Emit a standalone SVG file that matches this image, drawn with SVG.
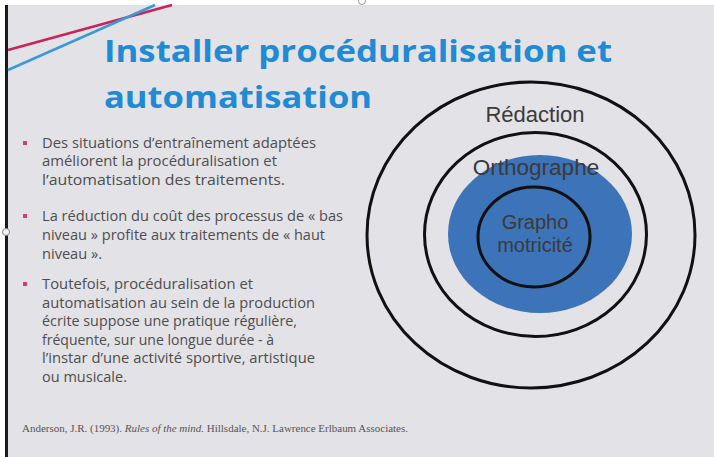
<svg xmlns="http://www.w3.org/2000/svg" width="714" height="457" viewBox="0 0 714 457">
<style>
.title{font-family:"Open Sans","Liberation Sans",sans-serif;font-weight:bold;font-size:30px;fill:#1f8ad6}
.body{font-family:"Open Sans","Liberation Sans",sans-serif;font-size:14px;fill:#4e4e4e}
.lbl{font-family:"Liberation Sans",Arial,sans-serif;fill:#3a3a3a;text-anchor:middle}
.ring{fill:none;stroke:#111;stroke-width:3}
.ref{font-family:"Liberation Serif","Times New Roman",serif;font-size:9.5px;fill:#555}
.bul{fill:#c8407a}
</style>
<rect x="0" y="0" width="714" height="457" fill="#ffffff"/>
<rect x="6" y="5" width="708" height="452" fill="#e3e2e6"/>
<rect x="5" y="5" width="3" height="452" fill="#1a1a1a"/>
<circle cx="6" cy="232" r="3.5" fill="#f4f4f4" stroke="#888" stroke-width="1"/>
<circle cx="362" cy="1" r="3.5" fill="none" stroke="#999" stroke-width="1"/>
<g id="deco">
<line x1="8" y1="50" x2="172" y2="5" stroke="#c8245a" stroke-width="2.5"/>
<line x1="8" y1="70" x2="155" y2="5" stroke="#3a9ad9" stroke-width="2.5"/>
</g>
<g id="title">
<text class="title" x="104" y="62" textLength="508" lengthAdjust="spacingAndGlyphs">Installer procéduralisation et</text>
<text class="title" x="104" y="108" textLength="268" lengthAdjust="spacingAndGlyphs">automatisation</text>
</g>
<g id="bullets">
<rect class="bul" x="23" y="141" width="4" height="4"/>
<text class="body" x="42" y="148" textLength="274" lengthAdjust="spacingAndGlyphs">Des situations d’entraînement adaptées</text>
<text class="body" x="42" y="166" textLength="235" lengthAdjust="spacingAndGlyphs">améliorent la procéduralisation et</text>
<text class="body" x="42" y="185" textLength="243" lengthAdjust="spacingAndGlyphs">l’automatisation des traitements.</text>
<rect class="bul" x="23" y="214" width="4" height="4"/>
<text class="body" x="42" y="221" textLength="301" lengthAdjust="spacingAndGlyphs">La réduction du coût des processus de « bas</text>
<text class="body" x="42" y="240" textLength="283" lengthAdjust="spacingAndGlyphs">niveau » profite aux traitements de « haut</text>
<text class="body" x="42" y="259" textLength="60" lengthAdjust="spacingAndGlyphs">niveau ».</text>
<rect class="bul" x="23" y="282" width="4" height="4"/>
<text class="body" x="42" y="289" textLength="211" lengthAdjust="spacingAndGlyphs">Toutefois, procéduralisation et</text>
<text class="body" x="42" y="308" textLength="273" lengthAdjust="spacingAndGlyphs">automatisation au sein de la production</text>
<text class="body" x="42" y="326" textLength="255" lengthAdjust="spacingAndGlyphs">écrite suppose une pratique régulière,</text>
<text class="body" x="42" y="345" textLength="232" lengthAdjust="spacingAndGlyphs">fréquente, sur une longue durée - à</text>
<text class="body" x="42" y="363" textLength="273" lengthAdjust="spacingAndGlyphs">l’instar d’une activité sportive, artistique</text>
<text class="body" x="42" y="382" textLength="85" lengthAdjust="spacingAndGlyphs">ou musicale.</text>
</g>
<text class="ref" x="22" y="432" textLength="386" lengthAdjust="spacingAndGlyphs">Anderson, J.R. (1993). <tspan font-style="italic">Rules of the mind.</tspan> Hillsdale, N.J. Lawrence Erlbaum Associates.</text>
<g id="redaction">
<ellipse class="ring" cx="531" cy="235" rx="164" ry="153"/>
<text class="lbl" x="535" y="122" font-size="22">Rédaction</text>
</g>
<g id="orthographe">
<ellipse cx="540" cy="234" rx="92" ry="79" fill="#3d73b8"/>
<ellipse class="ring" cx="535.5" cy="234.5" rx="111" ry="102"/>
<text class="lbl" x="536" y="175" font-size="22.5">Orthographe</text>
</g>
<g id="graphomotricite">
<ellipse class="ring" cx="534" cy="237" rx="56" ry="50"/>
<text class="lbl" x="535" y="229" font-size="20">Grapho</text>
<text class="lbl" x="535" y="252" font-size="20">motricité</text>
</g>
</svg>
